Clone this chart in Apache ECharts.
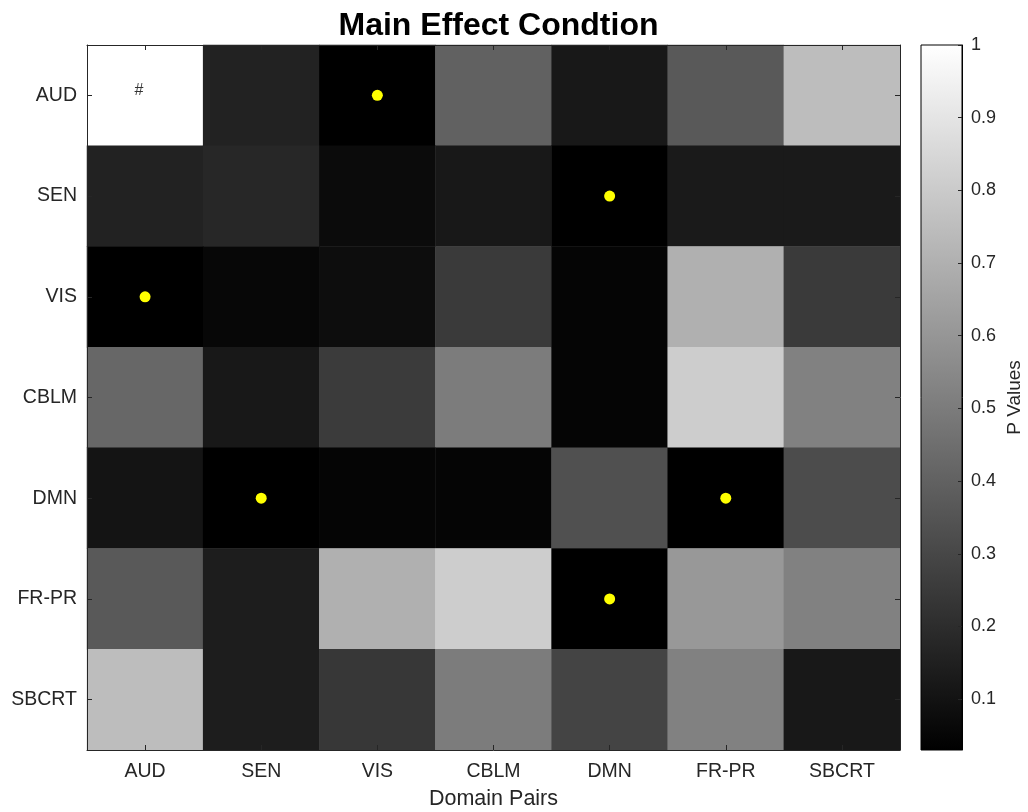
<!DOCTYPE html>
<html>
<head>
<meta charset="utf-8">
<script src="https://cdn.jsdelivr.net/npm/echarts@6/dist/echarts.min.js"></script>
<style>
html,body{margin:0;padding:0;background:#fff;}
#chart{width:1028px;height:812px;}
</style>
</head>
<body>
<div id="chart"></div>
<script>
// ---- data ----
const xCategories = ['AUD', 'SEN', 'VIS', 'CBLM', 'DMN', 'FR-PR', 'SBCRT'];
const yCategories = ['AUD', 'SEN', 'VIS', 'CBLM', 'DMN', 'FR-PR', 'SBCRT'];
const rowAUD   = [1.00, 0.16, 0.03, 0.40, 0.12, 0.37, 0.75];
const rowSEN   = [0.16, 0.18, 0.07, 0.12, 0.03, 0.13, 0.13];
const rowVIS   = [0.03, 0.055, 0.08, 0.25, 0.05, 0.70, 0.25];
const rowCBLM  = [0.42, 0.12, 0.255, 0.50, 0.05, 0.81, 0.52];
const rowDMN   = [0.105, 0.03, 0.05, 0.05, 0.335, 0.03, 0.32];
const rowFRPR  = [0.37, 0.14, 0.70, 0.81, 0.03, 0.61, 0.52];
const rowSBCRT = [0.75, 0.14, 0.24, 0.50, 0.29, 0.52, 0.12];
const pRows = [rowAUD, rowSEN, rowVIS, rowCBLM, rowDMN, rowFRPR, rowSBCRT];
// significant cells marked by yellow dots: [x category, y category]
const sigDots = [['VIS','AUD'], ['DMN','SEN'], ['AUD','VIS'], ['SEN','DMN'], ['FR-PR','DMN'], ['DMN','FR-PR']];
// cell marked with '#'
const hashCells = [['AUD','AUD']];
const colorMin = 0.03, colorMax = 1;

// ---- build ----
const heatData = [];
pRows.forEach((row, yi) => row.forEach((v, xi) => heatData.push([xi, yi, v])));
const dotData = sigDots.map(d => [xCategories.indexOf(d[0]), yCategories.indexOf(d[1])]);
const hashData = hashCells.map(d => [xCategories.indexOf(d[0]), yCategories.indexOf(d[1])]);

const txt = '#262626';
const font = 'Liberation Sans, Arial, Helvetica, sans-serif';
const chart = echarts.init(document.getElementById('chart'), null, {renderer: 'canvas'});

const plot = {left: 87, top: 45, width: 813, height: 705};
const cbar = {left: 921, top: 45, width: 41, height: 705};
const cbarGradient = {
  type: 'linear', x: 0, y: 0, x2: 0, y2: 1,
  colorStops: [{offset: 0, color: '#ffffff'}, {offset: 1, color: '#000000'}]
};

chart.setOption({
  backgroundColor: '#ffffff',
  animation: false,
  title: {
    text: 'Main Effect Condtion',
    left: plot.left + plot.width / 2, textAlign: 'center', top: 5,
    textStyle: {fontFamily: font, fontSize: 32, fontWeight: 'bold', color: '#000'}
  },
  grid: [
    {left: plot.left, top: plot.top, width: plot.width, height: plot.height,
     containLabel: false, outerBoundsMode: 'none'},
    {left: cbar.left, top: cbar.top, width: cbar.width, height: cbar.height,
     containLabel: false, outerBoundsMode: 'none',
     show: true, borderColor: '#000', borderWidth: 1, backgroundColor: cbarGradient}
  ],
  xAxis: [
    {
      type: 'category', gridIndex: 0, data: xCategories, position: 'bottom', z: 10,
      name: 'Domain Pairs', nameLocation: 'middle', nameGap: 38,
      nameTextStyle: {fontFamily: font, fontSize: 21.5, color: txt},
      axisLine: {show: true, onZero: false, lineStyle: {color: txt, width: 1}},
      axisTick: {show: true, inside: true, alignWithLabel: true, length: 5, lineStyle: {color: txt}},
      axisLabel: {fontFamily: font, fontSize: 19.5, color: txt, margin: 12},
      splitLine: {show: false}
    },
    {
      type: 'category', gridIndex: 0, data: xCategories, position: 'top', z: 10,
      axisLine: {show: true, onZero: false, lineStyle: {color: txt, width: 1}},
      axisTick: {show: true, inside: true, alignWithLabel: true, length: 5, lineStyle: {color: txt}},
      axisLabel: {show: false}, splitLine: {show: false}
    },
    {
      type: 'value', gridIndex: 1, min: 0, max: 1, position: 'bottom', z: 10,
      axisLine: {show: false, onZero: false}, axisTick: {show: false}, axisLabel: {show: false}, splitLine: {show: false}
    }
  ],
  yAxis: [
    {
      type: 'category', gridIndex: 0, data: yCategories, inverse: true, position: 'left', z: 10,
      axisLine: {show: true, onZero: false, lineStyle: {color: txt, width: 1}},
      axisTick: {show: true, inside: true, alignWithLabel: true, length: 5, lineStyle: {color: txt}},
      axisLabel: {fontFamily: font, fontSize: 19.5, color: txt, margin: 10},
      splitLine: {show: false}
    },
    {
      type: 'category', gridIndex: 0, data: yCategories, inverse: true, position: 'right', z: 10,
      axisLine: {show: true, onZero: false, lineStyle: {color: txt, width: 1}},
      axisTick: {show: true, inside: true, alignWithLabel: true, length: 5, lineStyle: {color: txt}},
      axisLabel: {show: false}, splitLine: {show: false}
    },
    {
      type: 'value', gridIndex: 1, min: colorMin, max: colorMax, splitNumber: 10, position: 'right', z: 10,
      name: 'P Values', nameLocation: 'middle', nameGap: 43, nameRotate: 90,
      nameTextStyle: {fontFamily: font, fontSize: 19, color: txt},
      axisLine: {show: true, onZero: false, lineStyle: {color: '#000', width: 1}},
      axisTick: {show: true, inside: true, length: 4, lineStyle: {color: '#262626'}},
      axisLabel: {fontFamily: font, fontSize: 18, color: txt, margin: 9, showMinLabel: false,
        formatter: v => String(+v.toFixed(2))},
      splitLine: {show: false}
    }
  ],
  visualMap: {
    type: 'continuous', min: colorMin, max: colorMax, seriesIndex: 0, show: false,
    inRange: {color: ['#000000', '#ffffff']}
  },
  series: [
    {
      type: 'heatmap', xAxisIndex: 0, yAxisIndex: 0, data: heatData,
      itemStyle: {borderWidth: 0}, emphasis: {disabled: true}
    },
    {
      type: 'scatter', xAxisIndex: 0, yAxisIndex: 0, data: dotData,
      symbol: 'circle', symbolSize: 11, z: 5,
      itemStyle: {color: '#ffff00', opacity: 1},
      emphasis: {disabled: true}
    },
    {
      type: 'scatter', xAxisIndex: 0, yAxisIndex: 0, data: hashData,
      symbol: 'circle', symbolSize: 0, z: 5,
      label: {show: true, position: 'inside', formatter: '#', offset: [-6, -5],
        fontFamily: font, fontSize: 16, color: '#000'},
      emphasis: {disabled: true}
    }
  ]
});
</script>
</body>
</html>
